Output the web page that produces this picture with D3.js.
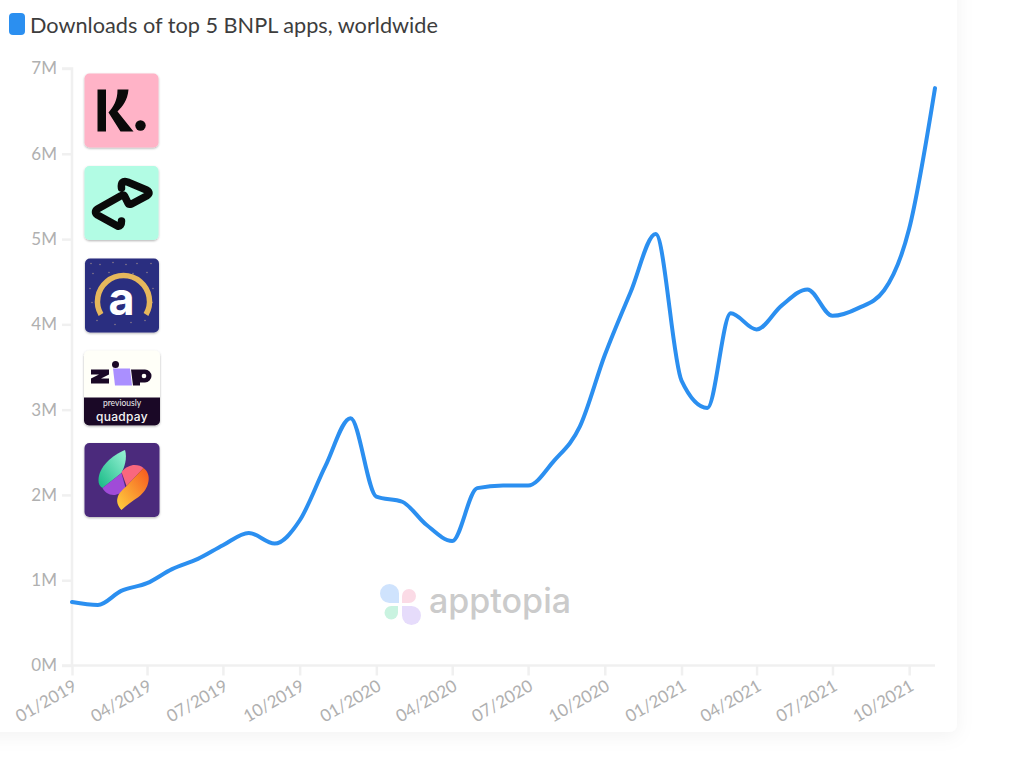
<!DOCTYPE html>
<html lang="en">
<head>
<meta charset="UTF-8">
<title>Downloads of top 5 BNPL apps</title>
<style>
  body { margin: 0; background: #fff; font-family: Lato, sans-serif; }
  .axis text { fill: #b0b0b0; font-family: Lato, sans-serif; font-size: 17px; }
  .axis path, .axis line { stroke: #f0f0f0; stroke-width: 2.5; }
</style>
<script src="https://d3js.org/d3.v7.min.js"></script>
</head>
<body>
<div id="chart"></div>
<script>
const months = [
  "01/2019","02/2019","03/2019","04/2019","05/2019","06/2019","07/2019","08/2019","09/2019","10/2019","11/2019","12/2019",
  "01/2020","02/2020","03/2020","04/2020","05/2020","06/2020","07/2020","08/2020","09/2020","10/2020","11/2020","12/2020",
  "01/2021","02/2021","03/2021","04/2021","05/2021","06/2021","07/2021","08/2021","09/2021","10/2021","11/2021"
];
// downloads in millions
const downloads = [
  0.745, 0.71, 0.875, 0.965, 1.13, 1.25, 1.41, 1.555, 1.43, 1.70, 2.34, 2.90,
  1.98, 1.92, 1.65, 1.46, 2.08, 2.11, 2.11, 2.40, 2.80, 3.64, 4.38, 5.06,
  3.34, 3.02, 4.13, 3.94, 4.22, 4.41, 4.10, 4.19, 4.40, 5.12, 6.77
];
const yTicks = [0, 1, 2, 3, 4, 5, 6, 7];
const xTicks = ["01/2019","04/2019","07/2019","10/2019","01/2020","04/2020","07/2020","10/2020","01/2021","04/2021","07/2021","10/2021"];
const title = "Downloads of top 5 BNPL apps, worldwide";
const starDots = [[6,5],[15,6],[28,4],[41,6],[52,5],[66,5],[8,15],[24,14],[48,15],[62,14],[5,30],[68,30],[7,44],[67,44],[12,62],[30,66],[46,64],[60,62]];

const margin = {top: 68.5, right: 89, bottom: 118.5, left: 72};
const width = 1024 - margin.left - margin.right;
const height = 784 - margin.top - margin.bottom;

const parseMonth = d3.utcParse("%m/%Y");

const root = d3.select("#chart").append("svg")
  .attr("width", 1024)
  .attr("height", 784)
  .style("display", "block");

// card behind the chart
const defs = root.append("defs");
const shadow = defs.append("filter").attr("id", "card")
  .attr("x", "-5%").attr("y", "-5%").attr("width", "110%").attr("height", "110%");
shadow.append("feDropShadow")
  .attr("dx", 0).attr("dy", 4).attr("stdDeviation", 9)
  .attr("flood-color", "#000").attr("flood-opacity", 0.05);
const iconShadow = defs.append("filter").attr("id", "icon")
  .attr("x", "-10%").attr("y", "-10%").attr("width", "120%").attr("height", "120%");
iconShadow.append("feDropShadow")
  .attr("dx", 0).attr("dy", 1).attr("stdDeviation", 1)
  .attr("flood-color", "#000").attr("flood-opacity", 0.3);

root.append("rect")
  .attr("x", -30).attr("y", -30).attr("width", 987).attr("height", 762)
  .attr("rx", 8)
  .attr("fill", "#fff")
  .attr("filter", "url(#card)");

// title
root.append("rect")
  .attr("x", 9).attr("y", 13).attr("width", 16).attr("height", 22).attr("rx", 4)
  .attr("fill", "#2b8ff0");
root.append("text")
  .attr("x", 30).attr("y", 33)
  .attr("font-family", "Lato, sans-serif").attr("font-size", 21.7)
  .attr("fill", "#3d3d3d")
  .text(title);

const svg = root.append("g")
  .attr("transform", "translate(" + margin.left + "," + margin.top + ")");

const x = d3.scaleUtc().domain(d3.extent(months, parseMonth)).range([0, width]);
const y = d3.scaleLinear().domain([0, 7]).range([height, 0]);

svg.append("g")
  .attr("class", "axis")
  .call(d3.axisLeft(y).tickValues(yTicks).tickFormat(d => d + "M").tickSize(10).tickPadding(5))
  .call(g => g.select(".domain").attr("d", "M-10,0H0V" + height + "H-10"));

const xAxis = svg.append("g")
  .attr("class", "axis")
  .attr("transform", "translate(0," + height + ")")
  .call(d3.axisBottom(x).tickValues(xTicks.map(parseMonth)).tickFormat(d3.utcFormat("%m/%Y")).tickSize(10).tickPadding(8));
xAxis.select(".domain").attr("d", "M0,0H" + width);
xAxis.selectAll("text")
  .attr("text-anchor", "end")
  .attr("dx", "0.3em")
  .attr("dy", "0.6em")
  .attr("transform", "translate(-13,2) rotate(-30)");

// apptopia watermark
const mark = root.append("g").attr("transform", "translate(400,604)");
const petals = [
  {c: "#cfe3fd", d: "M-1,-1 H-10.5 A9.5,9.5 0 1 1 -1,-10.5 Z"},
  {c: "#fbdbe6", d: "M2,-1 V-8 A7,7 0 1 1 9,-1 Z"},
  {c: "#c9f3e0", d: "M-2,2 V8.75 A6.75,6.75 0 1 1 -8.75,2 Z"},
  {c: "#e6dcfb", d: "M2,2 H11.5 A9.5,9.5 0 1 1 2,11.5 Z"}
];
mark.selectAll("path").data(petals).join("path")
  .attr("d", d => d.d)
  .attr("fill", d => d.c);
root.append("text")
  .attr("x", 429).attr("y", 613)
  .attr("font-family", "Inter, sans-serif").attr("font-size", 34).attr("font-weight", 500)
  .attr("fill", "#cbcbcb")
  .text("apptopia");

// line
const line = d3.line()
  .x((d, i) => x(parseMonth(months[i])))
  .y(d => y(d))
  .curve(d3.curveMonotoneX);
svg.append("path")
  .datum(downloads)
  .attr("fill", "none")
  .attr("stroke", "#2b8ff0")
  .attr("stroke-width", 4)
  .attr("stroke-linecap", "round")
  .attr("d", line);

// app icons
function icon(px, py, w, h, fill) {
  const g = root.append("g").attr("transform", "translate(" + px + "," + py + ")");
  g.append("rect").attr("width", w).attr("height", h).attr("rx", 5)
    .attr("fill", fill).attr("filter", "url(#icon)");
  return g;
}

const klarna = icon(84.5, 73.5, 74, 74, "#ffb3c7");
klarna.append("rect").attr("x", 13).attr("y", 16).attr("width", 8.5).attr("height", 42).attr("fill", "#0a0a0a");
klarna.append("path").attr("d", "M33,16 H44 C43,27 38,33 33,38 L49,58 H36 L24,39 C29,33 33,27 33,16 Z").attr("fill", "#0a0a0a");
klarna.append("circle").attr("cx", 56).attr("cy", 52).attr("r", 5.2).attr("fill", "#0a0a0a");

const afterpay = icon(84.5, 166, 74, 74, "#b2fce4");
afterpay.append("path")
  .attr("d", "M37,22 Q36,14 43,16 L62,24 Q67,27 62,30 L47,38 Q44,39 43,36 L40,30 Q39,28 36,30 L13,43 Q9,46 13,49 L33,60 Q37,61 37,55")
  .attr("fill", "none").attr("stroke", "#0a0a0a").attr("stroke-width", 7.5)
  .attr("stroke-linecap", "round").attr("stroke-linejoin", "round");

const affirm = icon(85, 258.5, 74, 74, "#2c2e80");
affirm.selectAll("circle").data(starDots).join("circle")
  .attr("cx", d => d[0]).attr("cy", d => d[1]).attr("r", 0.8)
  .attr("fill", "#8a7a8a");
affirm.append("path")
  .attr("d", "M16,56 A26,26 0 1 1 61,56")
  .attr("fill", "none").attr("stroke", "#e6b75c").attr("stroke-width", 5.5);
affirm.append("text")
  .attr("x", 36.5).attr("y", 56.5).attr("text-anchor", "middle")
  .attr("font-family", "Inter, sans-serif").attr("font-size", 45).attr("font-weight", 700)
  .attr("fill", "#fff").text("a");

const zip = icon(84, 350.5, 76, 75, "#fffff8");
zip.append("path").attr("d", "M0,47 H76 V70 A5,5 0 0 1 71,75 H5 A5,5 0 0 1 0,70 Z").attr("fill", "#1a0826");
zip.append("path").attr("d", "M7,19 H25 V24 L17,28 H25 V33 H7 V28 L15,24 H7 Z").attr("fill", "#1a0826");
zip.append("path").attr("d", "M29,18 H46 L48,35 H31 Z").attr("fill", "#aa8fff");
zip.append("circle").attr("cx", 31.5).attr("cy", 14).attr("r", 3.5).attr("fill", "#1a0826");
zip.append("path").attr("d", "M47,19 H61 A6.5,6.5 0 0 1 61,32 H56 V35 H49 Z").attr("fill", "#1a0826");
zip.append("circle").attr("cx", 60).attr("cy", 25.5).attr("r", 2.3).attr("fill", "#fffff8");
zip.append("text").attr("x", 38).attr("y", 55.5).attr("text-anchor", "middle")
  .attr("font-family", "Lato, sans-serif").attr("font-size", 8.5).attr("fill", "#eee").text("previously");
zip.append("text").attr("x", 38).attr("y", 70).attr("text-anchor", "middle")
  .attr("font-family", "Inter, sans-serif").attr("font-size", 12).attr("font-weight", 500).attr("letter-spacing", 0.3).attr("fill", "#f4f4f4").text("quadpay");

const fifth = icon(84.5, 443, 75, 74, "#4b2a7c");
const grad = defs.append("linearGradient").attr("id", "leafGreen").attr("x1", 0).attr("y1", 1).attr("x2", 1).attr("y2", 0);
grad.append("stop").attr("offset", "0%").attr("stop-color", "#16b985");
grad.append("stop").attr("offset", "100%").attr("stop-color", "#9af3d6");
const grad2 = defs.append("linearGradient").attr("id", "leafOrange").attr("x1", 0).attr("y1", 1).attr("x2", 1).attr("y2", 0);
grad2.append("stop").attr("offset", "0%").attr("stop-color", "#ffd23f");
grad2.append("stop").attr("offset", "100%").attr("stop-color", "#f5561f");
fifth.append("path").attr("d", "M40.5,7 C28,12 14,24 14,37 C14,41 15,43 18,45 L37,30 C40,24 43,15 40.5,7 Z").attr("fill", "url(#leafGreen)");
fifth.append("path").attr("d", "M18,45 L37,30 L41,45 C37,50 33,52 29,52 C24,52 20,49 18,45 Z").attr("fill", "#a04bd8");
fifth.append("path").attr("d", "M37,29 C41,24 46,22 50,22 C54,22 57,23 59,25 L42,43 Z").attr("fill", "#f9677e");
fifth.append("path").attr("d", "M59,25 C63,28 65,33 64,38 C63,45 59,50 54,54 C48,58 42,62 37,67 C33,63 32,58 33,55 C34,50 38,47 42,43 Z").attr("fill", "url(#leafOrange)");
</script>
</body>
</html>
